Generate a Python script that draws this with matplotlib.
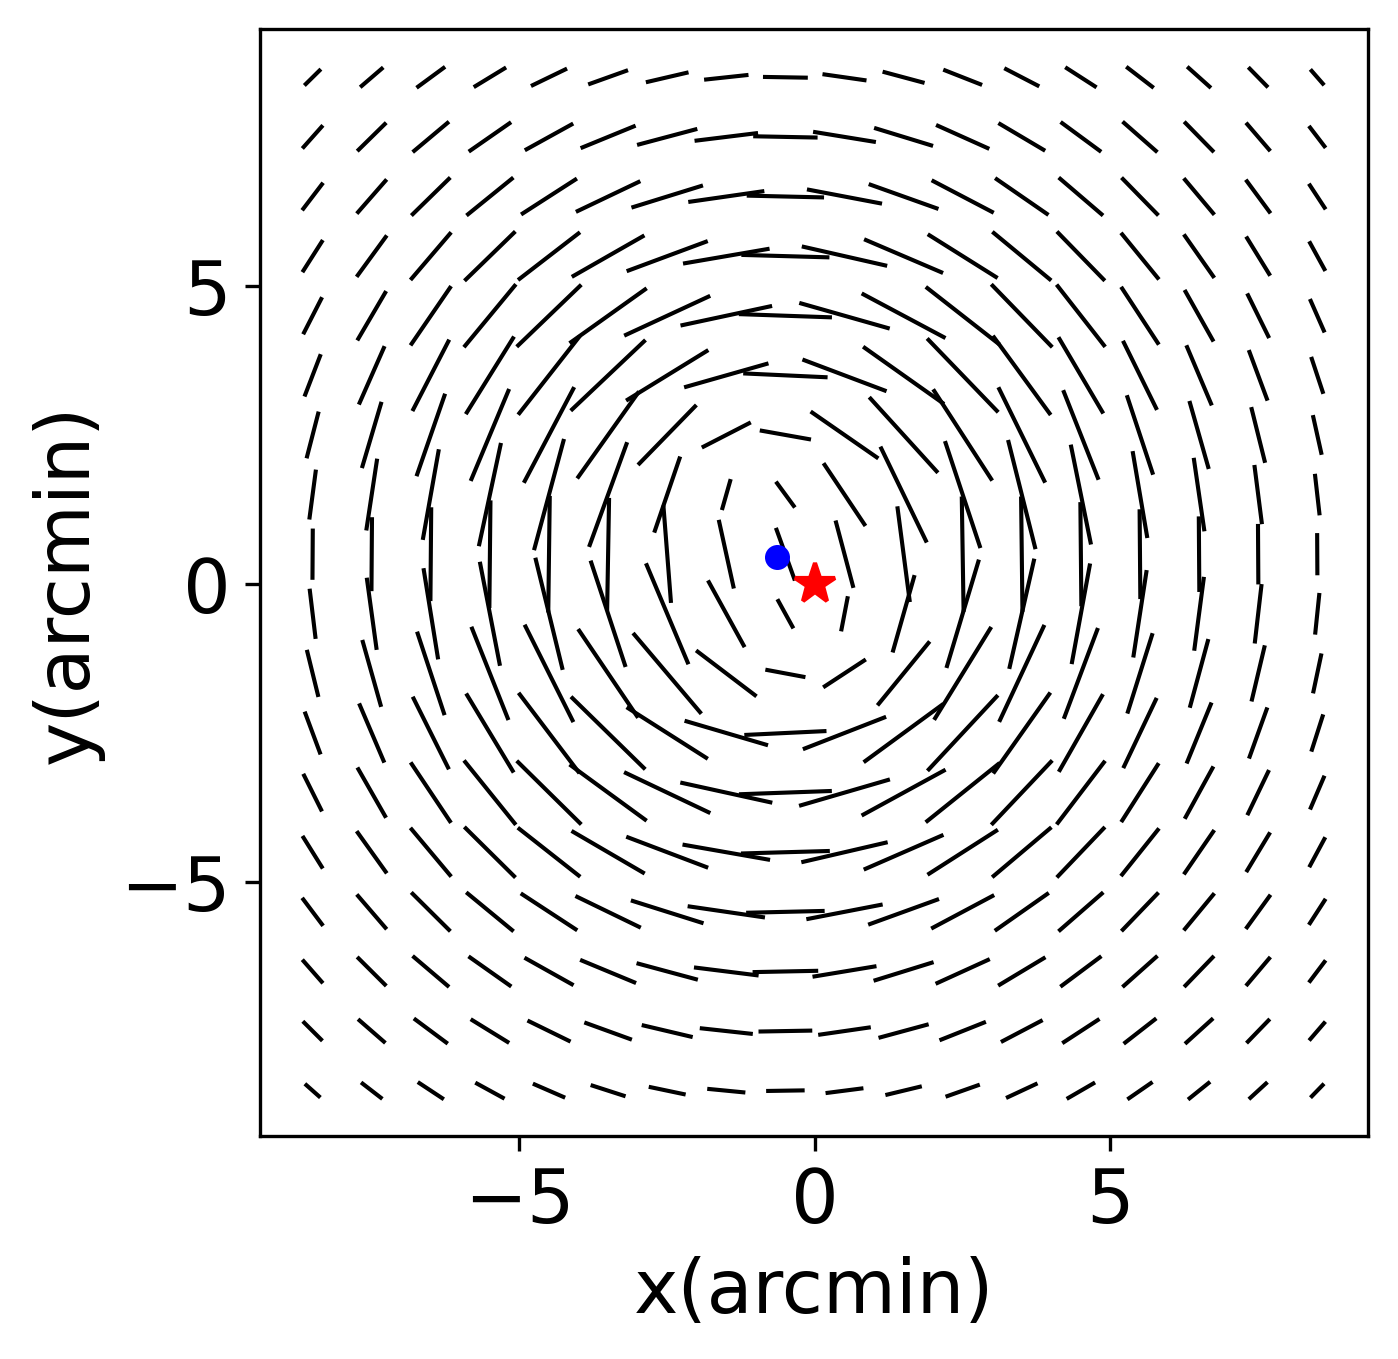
import numpy as np
import matplotlib
matplotlib.use("Agg")
import matplotlib.pyplot as plt

# Grid of whisker positions (arcmin)
x_pos = [-8.5, -7.5, -6.5, -5.5, -4.5, -3.5, -2.5, -1.5, -0.5,
         0.5, 1.5, 2.5, 3.5, 4.5, 5.5, 6.5, 7.5, 8.5]
y_pos = [-8.5, -7.5, -6.5, -5.5, -4.5, -3.5, -2.5, -1.5, -0.5,
         0.5, 1.5, 2.5, 3.5, 4.5, 5.5, 6.5, 7.5, 8.5]

# Centres
peak_x, peak_y = -0.64, 0.45   # blue dot
bcg_x, bcg_y = 0.0, 0.0        # red star

# Whisker length read along the horizontal and vertical through the peak
prof_r = [1, 2, 3, 4, 5, 6, 7, 8, 9, 10, 11, 12, 13]
len_horiz = [1.1, 1.63, 1.93, 1.96, 1.78, 1.54, 1.3, 1.07, 0.9, 0.79, 0.68, 0.57, 0.5]
len_vert = [0.6, 0.8, 1.42, 1.58, 1.5, 1.32, 1.1, 0.9, 0.76, 0.65, 0.55, 0.48, 0.44]

# Shortening of the whiskers near the field border (per column / row)
col_scale = [0.78, 0.93, 1, 1, 1, 1, 1, 1, 1, 1, 1, 1, 1, 1, 1, 1, 0.97, 0.8]
row_scale = [0.85, 1, 1, 1, 1, 1, 1, 1, 1, 1, 1, 1, 1, 1, 1, 1, 1, 0.85]

# Whiskers near the centre, read one by one (angle in deg, length in arcmin)
inner_x = [-2.5, -1.5, -0.5, 0.5, 1.5,
           -2.5, -1.5, -0.5, 0.5, 1.5,
           -2.5, -1.5, -0.5, 0.5, 1.5,
           -2.5, -1.5, -0.5, 0.5, 1.5,
           -2.5, -1.5, -0.5, 0.5, 1.5]
inner_y = [2.5, 2.5, 2.5, 2.5, 2.5,
           1.5, 1.5, 1.5, 1.5, 1.5,
           0.5, 0.5, 0.5, 0.5, 0.5,
           -0.5, -0.5, -0.5, -0.5, -0.5,
           -1.5, -1.5, -1.5, -1.5, -1.5]
inner_angle = [45.5, 27, -10, -34.5, -47.5,
               71, 74, -53.5, -56, -64,
               94.5, 102.5, 110, 105, 97.5,
               113, 119, 119, 79, 74,
               130.5, -37, -10.5, 33, 50.5]
inner_len = [1.41, 0.93, 0.88, 1.39, 1.72,
             1.35, 0.54, 0.54, 1.27, 1.79,
             1.64, 1.18, 0.94, 1.17, 1.62,
             1.84, 1.28, 0.56, 0.6, 1.35,
             1.78, 1.28, 0.69, 0.86, 1.39]

# Build whisker field
X, Y = np.meshgrid(x_pos, y_pos)
dx = X - peak_x
dy = Y - peak_y
r = np.hypot(dx, dy)
c2 = (dx / r) ** 2
length = np.interp(r, prof_r, len_horiz) * c2 + np.interp(r, prof_r, len_vert) * (1 - c2)
length = length * np.array(col_scale)[None, :] * np.array(row_scale)[:, None]
theta = np.arctan2(dy, dx) + np.pi / 2

for xi, yi, a, l in zip(inner_x, inner_y, inner_angle, inner_len):
    i = y_pos.index(yi)
    j = x_pos.index(xi)
    theta[i, j] = np.deg2rad(a)
    length[i, j] = l

U = length * np.cos(theta)
V = length * np.sin(theta)

# Plot
fig = plt.figure(figsize=(4.66, 4.533), dpi=300)
ax = fig.add_axes([0.186, 0.164, 0.7926, 0.814])

ax.quiver(X, Y, U, V, pivot="middle", angles="xy", scale_units="xy", scale=1,
          headwidth=0, headlength=0, headaxislength=0, width=0.0037, color="black")
ax.plot(peak_x, peak_y, "o", color="blue", ms=5, zorder=3)
ax.plot(bcg_x, bcg_y, "*", color="red", ms=10, zorder=4)

ax.set_xlim(-9.39, 9.36)
ax.set_ylim(-9.26, 9.31)
ax.set_xticks([-5, 0, 5])
ax.set_yticks([-5, 0, 5])
ax.tick_params(labelsize=18)
ax.set_xlabel("x(arcmin)", fontsize=18)
ax.set_ylabel("y(arcmin)", fontsize=18)

fig.savefig("out.png", dpi=300)
